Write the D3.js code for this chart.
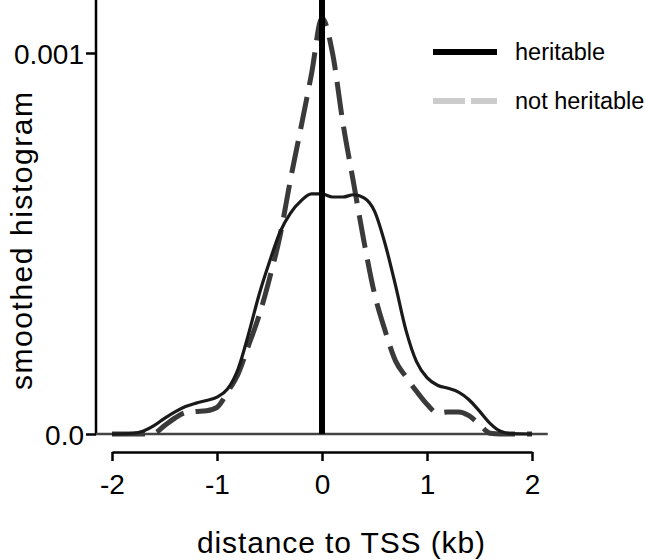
<!DOCTYPE html>
<html><head><meta charset="utf-8">
<script src="https://cdn.jsdelivr.net/npm/d3@7"></script>
<style>body{margin:0;background:#fff}text{font-family:"Liberation Sans",Arial,Helvetica,sans-serif;fill:#000}</style>
</head><body><svg id="c" width="646" height="560"></svg>
<script>
const herX = [-2,-1.8,-1.7,-1.6,-1.5,-1.4,-1.3,-1.2,-1.1,-1.0,-0.9,-0.8,-0.7,-0.6,-0.5,-0.4,-0.3,-0.2,-0.1,0,0.1,0.2,0.3,0.4,0.5,0.6,0.7,0.8,0.9,1.0,1.1,1.2,1.3,1.4,1.5,1.6,1.7,1.8,2.0];
const herY = [0,0.002,0.008,0.022,0.041,0.058,0.072,0.081,0.088,0.097,0.118,0.170,0.262,0.365,0.452,0.530,0.580,0.612,0.630,0.630,0.622,0.622,0.628,0.620,0.585,0.500,0.390,0.272,0.190,0.148,0.128,0.120,0.110,0.090,0.060,0.028,0.007,0.001,0];
const notX = [-2,-1.7,-1.6,-1.5,-1.4,-1.3,-1.2,-1.1,-1.0,-0.9,-0.8,-0.7,-0.6,-0.5,-0.4,-0.3,-0.2,-0.1,0,0.1,0.2,0.3,0.4,0.5,0.6,0.7,0.8,0.9,1.0,1.1,1.2,1.3,1.4,1.5,1.6,1.7,2.0];
const notY = [0,0,0.002,0.022,0.042,0.056,0.059,0.061,0.070,0.110,0.157,0.232,0.310,0.408,0.520,0.668,0.805,0.945,1.092,1.000,0.815,0.660,0.505,0.368,0.272,0.192,0.150,0.112,0.078,0.055,0.058,0.058,0.048,0.025,0.002,0,0];
const xTicks = [-2,-1,0,1,2];
const yTicks = [0,0.001];
const yTickLabels = ["0.0","0.001"];
const legendLabels = ["heritable","not heritable"];

const svg = d3.select("#c");
const x = d3.scaleLinear().domain([-2,2]).range([112,532]);
const y = d3.scaleLinear().domain([0,0.001]).range([434,53]);

// y axis
const yAx = svg.append("g").attr("transform","translate(96,0)")
  .call(d3.axisLeft(y).tickValues(yTicks).tickFormat((d,i)=>yTickLabels[i]).tickSize(10).tickPadding(2));
yAx.select(".domain").remove();
yAx.append("line").attr("x1",0).attr("x2",0).attr("y1",0).attr("y2",y(0)).attr("stroke","#000").attr("stroke-width",2.5);
yAx.selectAll(".tick line").attr("stroke","#000").attr("stroke-width",2.5);
yAx.selectAll(".tick text").attr("font-size",28).attr("fill","#000").attr("dy","0.36em");

// x axis
const xAx = svg.append("g").attr("transform","translate(0,452)")
  .call(d3.axisBottom(x).tickValues(xTicks).tickFormat(d3.format("d")).tickSize(9).tickSizeOuter(0).tickPadding(13));
xAx.select(".domain").attr("stroke","#000").attr("stroke-width",2.5);
xAx.selectAll(".tick line").attr("stroke","#000").attr("stroke-width",2.5);
xAx.selectAll(".tick text").attr("font-size",28).attr("fill","#000").text(d=>d<0?"-"+Math.abs(d):d);

// baseline
svg.append("line").attr("x1",96).attr("x2",x(2.15)).attr("y1",y(0)).attr("y2",y(0)).attr("stroke","#444").attr("stroke-width",2.5);

const line = d3.line().x(d=>x(d[0])).y(d=>y(d[1]/1000)).curve(d3.curveMonotoneX);

svg.append("path").datum(notX.map((v,i)=>[v,notY[i]])).attr("d",line)
  .attr("fill","none").attr("stroke","#3a3a3a").attr("stroke-width",5).attr("stroke-dasharray","33,12");
svg.append("path").datum(herX.map((v,i)=>[v,herY[i]])).attr("d",line)
  .attr("fill","none").attr("stroke","#1a1a1a").attr("stroke-width",3.2);

// vertical line at TSS
svg.append("line").attr("x1",x(0)).attr("x2",x(0)).attr("y1",0).attr("y2",y(0)).attr("stroke","#000").attr("stroke-width",6);

// legend
const lg = svg.append("g");
lg.append("line").attr("x1",433).attr("x2",497).attr("y1",52).attr("y2",52).attr("stroke","#000").attr("stroke-width",6);
lg.append("line").attr("x1",433).attr("x2",497).attr("y1",101).attr("y2",101).attr("stroke","#cccccc").attr("stroke-width",6).attr("stroke-dasharray","32,6");
lg.append("text").attr("x",515).attr("y",52).attr("dy","0.35em").attr("font-size",23.5).text(legendLabels[0]);
lg.append("text").attr("x",515).attr("y",101).attr("dy","0.35em").attr("font-size",23.5).text(legendLabels[1]);

// axis titles
svg.append("text").attr("x",341).attr("y",553).attr("text-anchor","middle").attr("font-size",30)
  .attr("textLength",288).attr("lengthAdjust","spacing").text("distance to TSS (kb)");
svg.append("text").attr("transform","translate(32,241) rotate(-90)").attr("text-anchor","middle").attr("font-size",30)
  .attr("textLength",298).attr("lengthAdjust","spacing").text("smoothed histogram");
</script></body></html>
